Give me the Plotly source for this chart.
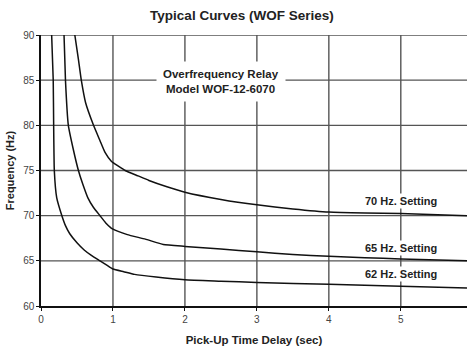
import plotly.graph_objects as go

# Pick-up time delay (sec) vs. frequency (Hz) for each relay setting
t_62 = [0.148, 0.17, 0.176, 0.185, 0.218, 0.29, 0.34, 0.40, 0.50, 0.60, 0.70, 0.82, 0.92, 1.0, 1.15, 1.3, 1.6, 2.0, 2.5, 3.0, 4.0, 5.0, 5.92]
f_62 = [90.0, 85.0, 80.0, 75.0, 72.0, 70.0, 68.9, 68.0, 67.0, 66.2, 65.6, 65.0, 64.5, 64.1, 63.8, 63.5, 63.2, 62.9, 62.75, 62.6, 62.4, 62.2, 62.0]

t_65 = [0.32, 0.34, 0.38, 0.45, 0.52, 0.58, 0.65, 0.73, 0.82, 0.90, 1.0, 1.2, 1.45, 1.7, 2.0, 2.5, 3.0, 3.5, 4.0, 4.5, 5.0, 5.92]
f_65 = [90.0, 85.0, 80.0, 77.3, 75.0, 73.5, 72.0, 70.9, 70.0, 69.2, 68.5, 67.9, 67.4, 66.8, 66.6, 66.3, 66.0, 65.7, 65.5, 65.35, 65.2, 65.0]

t_70 = [0.47, 0.52, 0.56, 0.62, 0.73, 0.82, 0.89, 0.98, 1.07, 1.17, 1.35, 1.5, 1.75, 2.0, 2.5, 3.0, 3.5, 4.0, 4.5, 5.0, 5.92]
f_70 = [90.0, 87.3, 85.0, 82.5, 80.0, 78.3, 77.0, 76.0, 75.5, 75.0, 74.4, 73.9, 73.2, 72.6, 71.8, 71.2, 70.75, 70.4, 70.3, 70.25, 70.0]

x_ticks = [0, 1, 2, 3, 4, 5]
y_ticks = [60, 65, 70, 75, 80, 85, 90]

# Curve labels: (text, time, frequency)
setting_labels = [
    ("70 Hz. Setting", 5.0, 71.6),
    ("65 Hz. Setting", 5.0, 66.45),
    ("62 Hz. Setting", 5.0, 63.5),
]

FONT = "Liberation Sans, Arial, sans-serif"
GRID = "#555555"

fig = go.Figure()
for t, f in [(t_62, f_62), (t_65, f_65), (t_70, f_70)]:
    fig.add_trace(go.Scatter(
        x=t, y=f, mode="lines",
        line=dict(color="#111111", width=1.5, shape="spline", smoothing=0.4),
        showlegend=False, hoverinfo="skip",
    ))

# grid lines at every tick (including the top edge of the plot)
for xv in x_ticks[1:]:
    fig.add_shape(type="line", xref="x", yref="paper", x0=xv, x1=xv, y0=0, y1=1,
                  line=dict(color=GRID, width=1.4), layer="below")
for yv in y_ticks[1:]:
    fig.add_shape(type="line", xref="paper", yref="y", x0=0, x1=1, y0=yv, y1=yv,
                  line=dict(color=GRID, width=1.4), layer="below")

for text, x, y in setting_labels:
    fig.add_annotation(
        x=x, y=y, text=f"<b>{text}</b>", showarrow=False,
        font=dict(family=FONT, size=11, color="#222222"),
        bgcolor="white", borderpad=1,
    )

fig.add_annotation(
    x=2.5, y=84.9, text="<b>Overfrequency Relay<br>Model WOF-12-6070</b>",
    showarrow=False, font=dict(family=FONT, size=11.5, color="#222222"),
    bgcolor="white", borderpad=6,
)

fig.update_layout(
    width=467, height=347,
    margin=dict(l=41, r=0, t=35, b=41),
    paper_bgcolor="white", plot_bgcolor="white",
    title=dict(text="<b>Typical Curves (WOF Series)</b>", x=0.518, xanchor="center",
               y=0.955, yanchor="middle",
               font=dict(family=FONT, size=13.5, color="#222222")),
    xaxis=dict(
        range=[0, 5.92], tickvals=x_ticks, ticktext=[str(v) for v in x_ticks],
        showgrid=False,
        showline=True, linecolor="#111111", linewidth=1.5,
        ticks="outside", ticklen=3, tickcolor="#111111",
        tickfont=dict(family=FONT, size=10, color="#444444"),
        zeroline=False,
        title=dict(text="<b>Pick-Up Time Delay (sec)</b>", standoff=12,
                   font=dict(family=FONT, size=11.5, color="#222222")),
    ),
    yaxis=dict(
        range=[60, 90], tickvals=y_ticks, ticktext=[str(v) for v in y_ticks],
        showgrid=False,
        showline=True, linecolor="#111111", linewidth=1.5,
        ticks="outside", ticklen=3, tickcolor="#111111",
        tickfont=dict(family=FONT, size=10, color="#444444"),
        zeroline=False,
        title=dict(text="<b>Frequency (Hz)</b>", standoff=6,
                   font=dict(family=FONT, size=11, color="#222222")),
    ),
)

fig.write_html("out.html")
